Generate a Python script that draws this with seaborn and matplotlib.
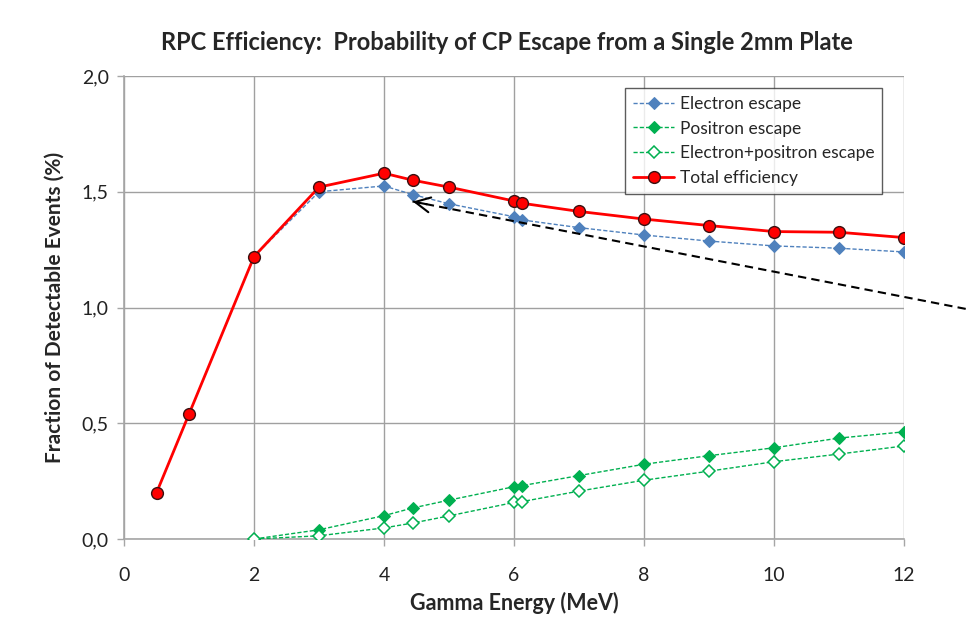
import matplotlib
matplotlib.use("Agg")
import matplotlib.pyplot as plt
import matplotlib.ticker as mticker
import seaborn as sns
import pandas as pd

# ---- data ----
energy_total = [0.5, 1, 2, 3, 4, 4.44, 5, 6, 6.13, 7, 8, 9, 10, 11, 12]
total_eff = [0.20, 0.54, 1.22, 1.52, 1.58, 1.55, 1.52, 1.46, 1.45, 1.415, 1.382, 1.354, 1.328, 1.325, 1.302]

energy = [2, 3, 4, 4.44, 5, 6, 6.13, 7, 8, 9, 10, 11, 12]
electron_esc = [1.22, 1.50, 1.525, 1.488, 1.448, 1.392, 1.378, 1.345, 1.313, 1.287, 1.266, 1.256, 1.240]
positron_esc = [0.0, 0.040, 0.101, 0.134, 0.168, 0.226, 0.231, 0.274, 0.323, 0.360, 0.394, 0.436, 0.463]
both_esc = [0.0, 0.014, 0.048, 0.069, 0.100, 0.158, 0.162, 0.207, 0.254, 0.293, 0.334, 0.367, 0.402]

arrow_tip = (4.4, 1.46)
arrow_tail = (12.95, 0.994)

title = "RPC Efficiency:  Probability of CP Escape from a Single 2mm Plate"
xlabel = "Gamma Energy (MeV)"
ylabel = "Fraction of Detectable Events (%)"

# ---- style ----
sns.set_theme(style="white")
plt.rcParams["font.family"] = ["Lato", "DejaVu Sans"]

fig = plt.figure(figsize=(9.66, 6.30), dpi=100)
ax = fig.add_axes([0.1284, 0.1444, 0.8074, 0.735])

df_e = pd.DataFrame({"E": energy, "v": electron_esc})
df_p = pd.DataFrame({"E": energy, "v": positron_esc})
df_b = pd.DataFrame({"E": energy, "v": both_esc})
df_t = pd.DataFrame({"E": energy_total, "v": total_eff})

blue = "#4F81BD"
green = "#00B050"
red = "#FF0000"

sns.lineplot(data=df_e, x="E", y="v", ax=ax, sort=False, estimator=None,
             color=blue, lw=1.0, linestyle=(0, (3, 1.5)), marker="D", markersize=6,
             markerfacecolor=blue, markeredgecolor=blue, label="Electron escape", zorder=3)
sns.lineplot(data=df_p, x="E", y="v", ax=ax, sort=False, estimator=None,
             color=green, lw=1.0, linestyle=(0, (3, 1.5)), marker="D", markersize=6,
             markerfacecolor=green, markeredgecolor=green, label="Positron escape", zorder=3)
sns.lineplot(data=df_b, x="E", y="v", ax=ax, sort=False, estimator=None,
             color=green, lw=1.0, linestyle=(0, (3, 1.5)), marker="D", markersize=6,
             markerfacecolor="white", markeredgecolor=green, markeredgewidth=1.1,
             label="Electron+positron escape", zorder=3)
sns.lineplot(data=df_t, x="E", y="v", ax=ax, sort=False, estimator=None,
             color=red, lw=2.0, marker="o", markersize=8.5,
             markerfacecolor=red, markeredgecolor="#3a1010", markeredgewidth=1.0,
             label="Total efficiency", zorder=4)

# arrow annotation (dashed shaft, open head)
ax.plot([arrow_tail[0], arrow_tip[0]], [arrow_tail[1], arrow_tip[1]],
        color="black", lw=1.5, linestyle=(0, (4, 2.5)), clip_on=False, zorder=5)
slope = (arrow_tip[1] - arrow_tail[1]) / (arrow_tip[0] - arrow_tail[0])
ax.annotate("", xy=arrow_tip,
            xytext=(arrow_tip[0] + 0.3, arrow_tip[1] + 0.3 * slope),
            arrowprops=dict(arrowstyle="->,head_length=0.9,head_width=0.45", color="black", lw=1.5),
            annotation_clip=False, zorder=5)

ax.set_xlim(0, 12)
ax.set_ylim(0, 2.0)
ax.xaxis.set_major_locator(mticker.MultipleLocator(2))
ax.yaxis.set_major_locator(mticker.MultipleLocator(0.5))
ax.yaxis.set_major_formatter(mticker.FuncFormatter(lambda v, p: f"{v:.1f}".replace(".", ",")))
ax.xaxis.set_major_formatter(mticker.FuncFormatter(lambda v, p: f"{int(v)}"))

ax.grid(True, color="#a0a0a0", lw=1.0)
for s in ["top", "right"]:
    ax.spines[s].set_visible(False)
for s in ["left", "bottom"]:
    ax.spines[s].set_color("#a6a6a6")
    ax.spines[s].set_linewidth(1.2)
ax.tick_params(axis="both", which="major", length=5, width=1.0, color="#a6a6a6",
               labelsize=14, labelcolor="#222222", direction="out", bottom=True, left=True)
ax.tick_params(axis="x", pad=15)
ax.tick_params(axis="y", pad=6)

ax.set_xlabel(xlabel, fontsize=15.5, fontweight="bold", labelpad=6)
ax.set_ylabel(ylabel, fontsize=15, fontweight="bold", labelpad=12)
fig.suptitle(title, fontsize=17, fontweight="bold", x=0.525, y=0.95)

leg = ax.legend(loc="upper right", bbox_to_anchor=(0.972, 0.974), borderaxespad=0.0,
                frameon=True, fancybox=False,
                edgecolor="#333333", fontsize=12.5, handlelength=2.4, borderpad=0.45,
                labelspacing=0.5, handletextpad=0.3)
leg.get_frame().set_linewidth(1.0)

fig.savefig("out.png", dpi=100)
